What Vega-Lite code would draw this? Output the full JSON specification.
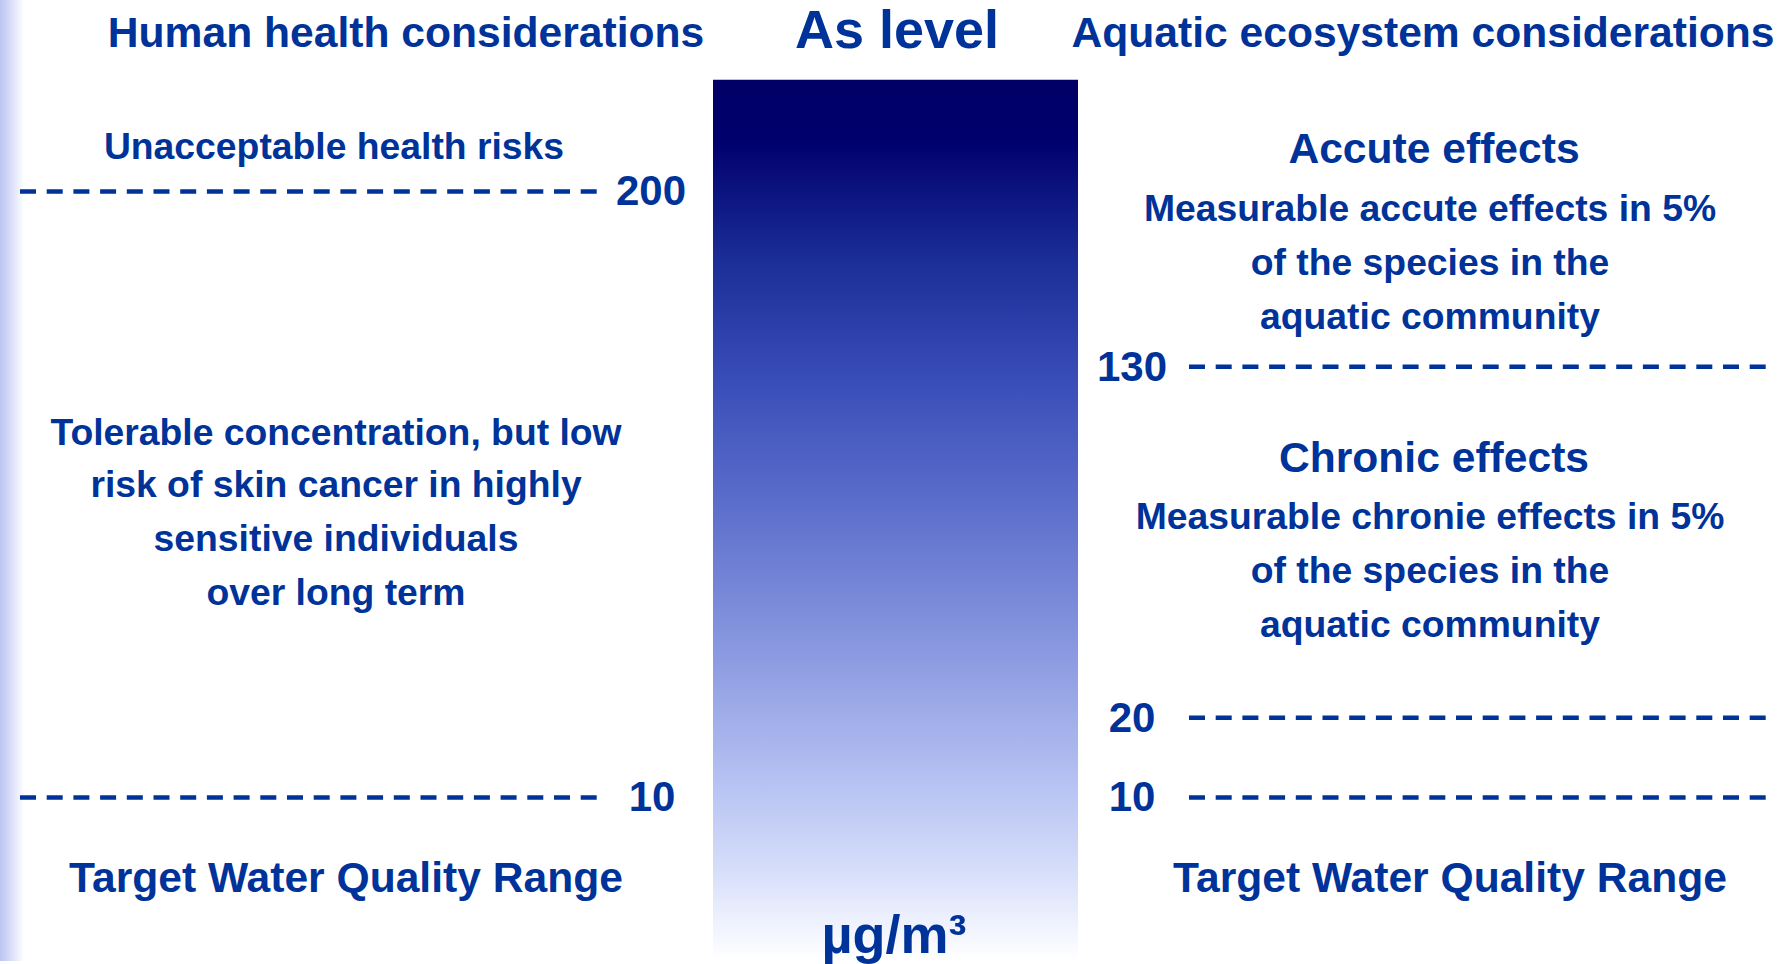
{
  "$schema": "https://vega.github.io/schema/vega-lite/v6.json",
  "width": 1785,
  "height": 964,
  "autosize": {"type": "fit", "contains": "padding"},
  "padding": 0,
  "background": "white",
  "config": {"view": {"stroke": null}},
  "datasets": {
    "panels": [
      {"part": "edge", "x": 0, "x2": 24, "y": 0, "y2": 964},
      {"part": "level", "x": 713, "x2": 1078, "y": 80, "y2": 962}
    ],
    "thresholds": [
      {"side": "human", "level": "200", "x": 20, "x2": 598, "y": 192},
      {"side": "human", "level": "10", "x": 20, "x2": 598, "y": 800},
      {"side": "aquatic", "level": "130", "x": 1189, "x2": 1767, "y": 368},
      {"side": "aquatic", "level": "20", "x": 1189, "x2": 1767, "y": 720},
      {"side": "aquatic", "level": "10", "x": 1189, "x2": 1767, "y": 800}
    ],
    "labels": [
      {"kind": "head", "label": "Human health considerations", "x": 406, "y": 47},
      {"kind": "head", "label": "Aquatic ecosystem considerations", "x": 1423, "y": 47},
      {"kind": "title", "label": "As level", "x": 897, "y": 48},
      {"kind": "unit", "label": "µg/m³", "x": 894, "y": 956},
      {"kind": "body", "label": "Unacceptable health risks", "x": 334, "y": 159},
      {"kind": "body", "label": "Tolerable concentration, but low", "x": 336, "y": 446},
      {"kind": "body", "label": "risk of skin cancer in highly", "x": 336, "y": 499},
      {"kind": "body", "label": "sensitive individuals", "x": 336, "y": 553},
      {"kind": "body", "label": "over long term", "x": 336, "y": 607},
      {"kind": "head", "label": "Target Water Quality Range", "x": 346, "y": 895},
      {"kind": "head", "label": "Accute effects", "x": 1434, "y": 164},
      {"kind": "body", "label": "Measurable accute effects in 5%", "x": 1430, "y": 222},
      {"kind": "body", "label": "of the species in the", "x": 1430, "y": 276},
      {"kind": "body", "label": "aquatic community", "x": 1430, "y": 330},
      {"kind": "head", "label": "Chronic effects", "x": 1434, "y": 473},
      {"kind": "body", "label": "Measurable chronie effects in 5%", "x": 1430, "y": 531},
      {"kind": "body", "label": "of the species in the", "x": 1430, "y": 585},
      {"kind": "body", "label": "aquatic community", "x": 1430, "y": 639},
      {"kind": "head", "label": "Target Water Quality Range", "x": 1450, "y": 895},
      {"kind": "num", "label": "200", "x": 651, "y": 206},
      {"kind": "num", "label": "10", "x": 652, "y": 814},
      {"kind": "num", "label": "130", "x": 1132, "y": 382},
      {"kind": "num", "label": "20", "x": 1132, "y": 734},
      {"kind": "num", "label": "10", "x": 1132, "y": 814}
    ]
  },
  "layer": [
    {
      "data": {"name": "panels"},
      "transform": [{"filter": "datum.part === 'edge'"}],
      "mark": {
        "type": "rect",
        "fill": {
          "gradient": "linear", "x1": 0, "y1": 0, "x2": 1, "y2": 0,
          "stops": [
            {"offset": 0, "color": "#bcc4f2"},
            {"offset": 0.45, "color": "#d8ddf9"},
            {"offset": 1, "color": "#ffffff"}
          ]
        }
      },
      "encoding": {
        "x": {"field": "x", "type": "quantitative", "axis": null, "scale": {"domain": [0, 1785], "nice": false, "zero": false}},
        "x2": {"field": "x2"},
        "y": {"field": "y", "type": "quantitative", "axis": null, "scale": {"domain": [0, 964], "nice": false, "zero": false, "reverse": true}},
        "y2": {"field": "y2"}
      }
    },
    {
      "data": {"name": "panels"},
      "transform": [{"filter": "datum.part === 'level'"}],
      "mark": {
        "type": "rect",
        "fill": {
          "gradient": "linear", "x1": 0, "y1": 0, "x2": 0, "y2": 1,
          "stops": [
            {"offset": 0, "color": "#000066"},
            {"offset": 0.07, "color": "#00006e"},
            {"offset": 0.2, "color": "#1a2c96"},
            {"offset": 0.35, "color": "#3b4fba"},
            {"offset": 0.5, "color": "#6072cd"},
            {"offset": 0.65, "color": "#8a99e0"},
            {"offset": 0.8, "color": "#b6c2f2"},
            {"offset": 0.9, "color": "#d6defa"},
            {"offset": 0.96, "color": "#eff2fe"},
            {"offset": 1, "color": "#ffffff"}
          ]
        }
      },
      "encoding": {
        "x": {"field": "x", "type": "quantitative", "axis": null, "scale": {"domain": [0, 1785], "nice": false, "zero": false}},
        "x2": {"field": "x2"},
        "y": {"field": "y", "type": "quantitative", "axis": null, "scale": {"domain": [0, 964], "nice": false, "zero": false, "reverse": true}},
        "y2": {"field": "y2"}
      }
    },
    {
      "data": {"name": "thresholds"},
      "mark": {"type": "rule", "color": "#003399", "strokeWidth": 4.5, "strokeDash": [16, 10.7]},
      "encoding": {
        "x": {"field": "x", "type": "quantitative", "axis": null, "scale": {"domain": [0, 1785], "nice": false, "zero": false}},
        "x2": {"field": "x2"},
        "y": {"field": "y", "type": "quantitative", "axis": null, "scale": {"domain": [0, 964], "nice": false, "zero": false, "reverse": true}}
      }
    },
    {
      "data": {"name": "labels"},
      "transform": [{"filter": "datum.kind === 'head'"}],
      "mark": {"type": "text", "font": "Liberation Sans", "fontWeight": "bold", "fontSize": 42.6, "color": "#003399", "align": "center", "baseline": "alphabetic"},
      "encoding": {
        "x": {"field": "x", "type": "quantitative", "axis": null, "scale": {"domain": [0, 1785], "nice": false, "zero": false}},
        "y": {"field": "y", "type": "quantitative", "axis": null, "scale": {"domain": [0, 964], "nice": false, "zero": false, "reverse": true}},
        "text": {"field": "label"}
      }
    },
    {
      "data": {"name": "labels"},
      "transform": [{"filter": "datum.kind === 'num'"}],
      "mark": {"type": "text", "font": "Liberation Sans", "fontWeight": "bold", "fontSize": 42, "color": "#003399", "align": "center", "baseline": "alphabetic"},
      "encoding": {
        "x": {"field": "x", "type": "quantitative", "axis": null, "scale": {"domain": [0, 1785], "nice": false, "zero": false}},
        "y": {"field": "y", "type": "quantitative", "axis": null, "scale": {"domain": [0, 964], "nice": false, "zero": false, "reverse": true}},
        "text": {"field": "label"}
      }
    },
    {
      "data": {"name": "labels"},
      "transform": [{"filter": "datum.kind === 'body'"}],
      "mark": {"type": "text", "font": "Liberation Sans", "fontWeight": "bold", "fontSize": 37.3, "color": "#003399", "align": "center", "baseline": "alphabetic"},
      "encoding": {
        "x": {"field": "x", "type": "quantitative", "axis": null, "scale": {"domain": [0, 1785], "nice": false, "zero": false}},
        "y": {"field": "y", "type": "quantitative", "axis": null, "scale": {"domain": [0, 964], "nice": false, "zero": false, "reverse": true}},
        "text": {"field": "label"}
      }
    },
    {
      "data": {"name": "labels"},
      "transform": [{"filter": "datum.kind === 'title' || datum.kind === 'unit'"}],
      "mark": {"type": "text", "font": "Liberation Sans", "fontWeight": "bold", "fontSize": 54, "color": "#003399", "align": "center", "baseline": "alphabetic"},
      "encoding": {
        "x": {"field": "x", "type": "quantitative", "axis": null, "scale": {"domain": [0, 1785], "nice": false, "zero": false}},
        "y": {"field": "y", "type": "quantitative", "axis": null, "scale": {"domain": [0, 964], "nice": false, "zero": false, "reverse": true}},
        "text": {"field": "label"}
      }
    }
  ]
}
